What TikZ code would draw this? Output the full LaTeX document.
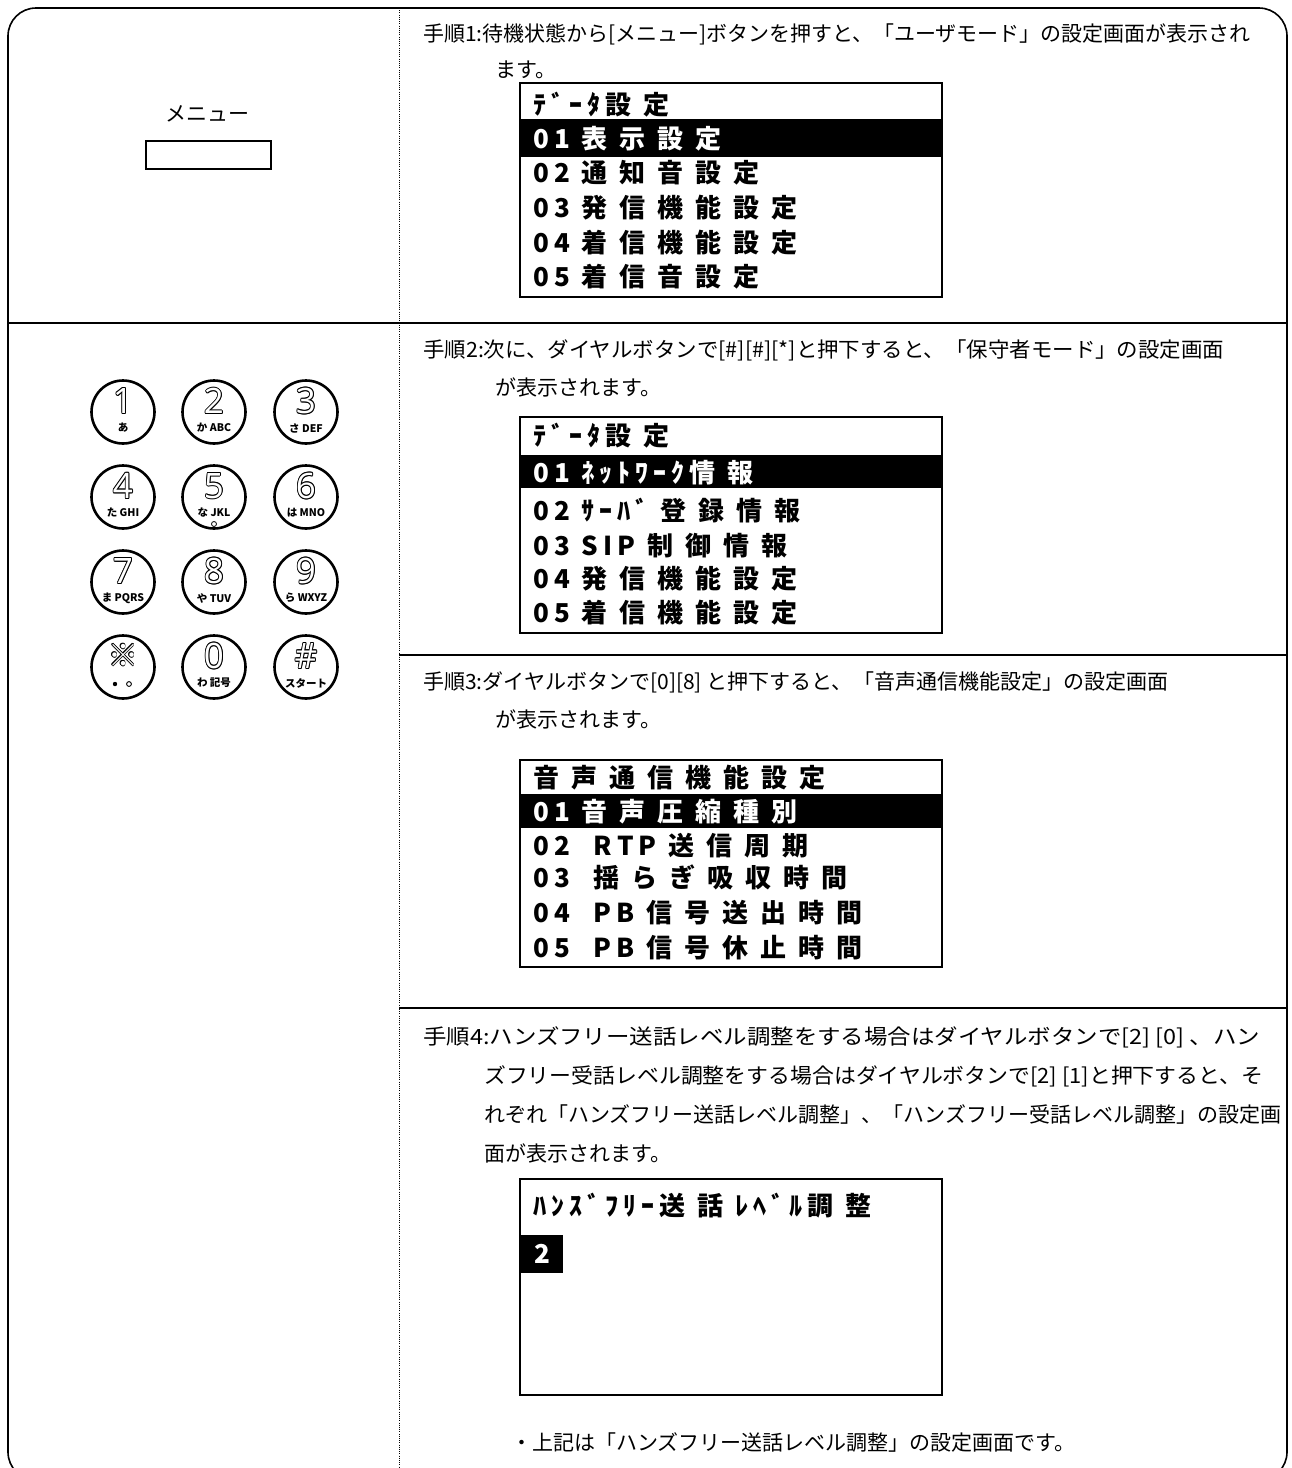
\documentclass[tikz,border=0pt]{standalone}
\usepackage{fontspec}
\usepackage{graphicx}
\newfontfamily\jp{Noto Sans CJK JP}
\newfontfamily\dig{Open Sans}
\newcommand\kg{\hspace{12pt}}
\newcommand\dg{\hspace{5pt}}
\newcommand\hg{\hspace{5pt}}
\newcommand\fitw[2]{\resizebox{#1pt}{\height}{#2}}
\newcommand\olt[1]{\begingroup\setbox0\hbox{#1}%
\rlap{\kern0.9pt\copy0}\rlap{\kern-0.9pt\copy0}%
\rlap{\raisebox{0.9pt}{\copy0}}\rlap{\raisebox{-0.9pt}{\copy0}}%
\rlap{\kern0.65pt\raisebox{0.65pt}{\copy0}}\rlap{\kern-0.65pt\raisebox{0.65pt}{\copy0}}%
\rlap{\kern0.65pt\raisebox{-0.65pt}{\copy0}}\rlap{\kern-0.65pt\raisebox{-0.65pt}{\copy0}}%
{\color{white}\copy0}\endgroup}
\newcommand\keyd[5]{%
  \node[keyc] (#1) at (#2,#3) {};
  \node[keyn] (#1n) at (#2,#3-11) {\olt{#4}};
  \node[keyl] (#1l) at (#2,#3+16) {#5};}
\begin{document}
\begin{tikzpicture}[x=1pt,y=-1pt,
  body/.style={font=\jp\fontsize{21}{25}\selectfont, inner sep=0pt, anchor=base west},
  lcd/.style={font=\jp\bfseries\fontsize{26}{26}\selectfont, inner sep=0pt, anchor=base west},
  lcdw/.style={lcd, text=white},
  scr/.style={draw, line width=1.6pt},
  keyc/.style={circle, draw, line width=2.6pt, minimum size=63pt, inner sep=0pt},
  keyn/.style={font=\dig\fontsize{35}{35}\selectfont, inner sep=0pt},
  keyl/.style={font=\jp\bfseries\fontsize{10.5}{11}\selectfont, inner sep=0pt},
  sep/.style={line width=1.6pt}]
\useasboundingbox (0,0) rectangle (1292,1468);
% frame and grid
\draw[line width=1.6pt, rounded corners=28pt] (8,8) rectangle (1287,1480);
\draw[line width=0.9pt, dash pattern=on 1pt off 1.2pt] (399,8) -- (399,1480);
\draw[sep] (8,323) -- (1287,323);
\draw[sep] (399,655) -- (1287,655);
\draw[sep] (399,1008) -- (1287,1008);

% menu button
\node[font=\jp\fontsize{21}{25}\selectfont, inner sep=0pt] (menu) at (207,114) {メニュー};
\draw[line width=1.2pt] (146,141) rectangle (271,169);

% keypad
\keyd{k1}{123}{412}{1}{あ}
\keyd{k2}{214}{412}{2}{か ABC}
\keyd{k3}{306}{412}{3}{さ DEF}
\keyd{k4}{123}{497}{4}{た GHI}
\keyd{k5}{214}{497}{5}{な JKL}
\keyd{k6}{306}{497}{6}{は MNO}
\keyd{k7}{123}{582}{7}{ま PQRS}
\keyd{k8}{214}{582}{8}{や TUV}
\keyd{k9}{306}{582}{9}{ら WXYZ}
\node[keyc] (ks) at (123,667) {};
\node[inner sep=0pt, font=\jp\fontsize{30}{30}\selectfont] (ksn) at (123,655) {\olt{※}};
\fill (115,684) circle (2.2pt);
\draw[line width=0.9pt] (129,684) circle (2.4pt);
\keyd{k0}{214}{667}{0}{わ 記号}
\keyd{kh}{306}{667}{\#}{スタート}
\draw[line width=0.8pt] (214,524) circle (2.5pt);

% step 1
\node[body] (s1a) at (423,41) {\fitw{827}{手順1:待機状態から[メニュー]ボタンを押すと、「ユーザモード」の設定画面が表示され}};
\node[body] (s1b) at (495,77) {ます。};
\draw[scr] (520,83) rectangle (942,297);
\fill (520,119) rectangle (942,157);
\node[lcd] (a0) at (533,114) {ﾃ\hg ﾞ\hg ｰ\hg ﾀ\hg 設\kg 定};
\node[lcdw] (a1) at (533,148) {0\dg 1\kg 表\kg 示\kg 設\kg 定};
\node[lcd] (a2) at (533,182) {0\dg 2\kg 通\kg 知\kg 音\kg 設\kg 定};
\node[lcd] (a3) at (533,217) {0\dg 3\kg 発\kg 信\kg 機\kg 能\kg 設\kg 定};
\node[lcd] (a4) at (533,252) {0\dg 4\kg 着\kg 信\kg 機\kg 能\kg 設\kg 定};
\node[lcd] (a5) at (533,286) {0\dg 5\kg 着\kg 信\kg 音\kg 設\kg 定};

% step 2
\node[body] (s2a) at (423,357) {\fitw{801}{手順2:次に、ダイヤルボタンで[\#][\#][*]と押下すると、「保守者モード」の設定画面}};
\node[body] (s2b) at (495,395) {が表示されます。};
\draw[scr] (520,417) rectangle (942,633);
\fill (520,455) rectangle (942,488);
\node[lcd] (b0) at (533,445) {ﾃ\hg ﾞ\hg ｰ\hg ﾀ\hg 設\kg 定};
\node[lcdw] (b1) at (533,482) {0\dg 1\kg ﾈ\hg ｯ\hg ﾄ\hg ﾜ\hg ｰ\hg ｸ\hg 情\kg 報};
\node[lcd] (b2) at (533,520) {0\dg 2\kg ｻ\hg ｰ\hg ﾊ\hg ﾞ\kg 登\kg 録\kg 情\kg 報};
\node[lcd] (b3) at (533,555) {0\dg 3\kg S\hg I\hg P\kg 制\kg 御\kg 情\kg 報};
\node[lcd] (b4) at (533,588) {0\dg 4\kg 発\kg 信\kg 機\kg 能\kg 設\kg 定};
\node[lcd] (b5) at (533,622) {0\dg 5\kg 着\kg 信\kg 機\kg 能\kg 設\kg 定};

% step 3
\node[body] (s3a) at (423,689) {\fitw{745}{手順3:ダイヤルボタンで[0][8] と押下すると、「音声通信機能設定」の設定画面}};
\node[body] (s3b) at (495,727) {が表示されます。};
\draw[scr] (520,760) rectangle (942,967);
\fill (520,794) rectangle (942,828);
\node[lcd] (c0) at (533,787) {音\kg 声\kg 通\kg 信\kg 機\kg 能\kg 設\kg 定};
\node[lcdw] (c1) at (533,821) {0\dg 1\kg 音\kg 声\kg 圧\kg 縮\kg 種\kg 別};
\node[lcd] (c2) at (533,855) {0\dg 2\kg\kg R\hg T\hg P\kg 送\kg 信\kg 周\kg 期};
\node[lcd] (c3) at (533,887) {0\dg 3\kg\kg 揺\kg ら\kg ぎ\kg 吸\kg 収\kg 時\kg 間};
\node[lcd] (c4) at (533,922) {0\dg 4\kg\kg P\hg B\kg 信\kg 号\kg 送\kg 出\kg 時\kg 間};
\node[lcd] (c5) at (533,957) {0\dg 5\kg\kg P\hg B\kg 信\kg 号\kg 休\kg 止\kg 時\kg 間};

% step 4
\node[body] (s4a) at (423,1044) {\fitw{837}{手順4:ハンズフリー送話レベル調整をする場合はダイヤルボタンで[2] [0] 、ハン}};
\node[body] (s4b) at (484,1083) {\fitw{779}{ズフリー受話レベル調整をする場合はダイヤルボタンで[2] [1]と押下すると、そ}};
\node[body] (s4c) at (484,1122) {\fitw{797}{れぞれ「ハンズフリー送話レベル調整」、「ハンズフリー受話レベル調整」の設定画}};
\node[body] (s4d) at (484,1161) {面が表示されます。};
\draw[scr] (520,1179) rectangle (942,1395);
\node[lcd] (d0) at (533,1215) {ﾊ\hg ﾝ\hg ｽ\hg ﾞ\hg ﾌ\hg ﾘ\hg ｰ\hg 送\kg 話\kg ﾚ\hg ﾍ\hg ﾞ\hg ﾙ\hg 調\kg 整};
\fill (521,1235) rectangle (563,1273);
\node[lcdw, anchor=center] (d1) at (542,1254) {2};
\node[body] (note) at (511,1450) {・上記は「ハンズフリー送話レベル調整」の設定画面です。};
\end{tikzpicture}
\end{document}
